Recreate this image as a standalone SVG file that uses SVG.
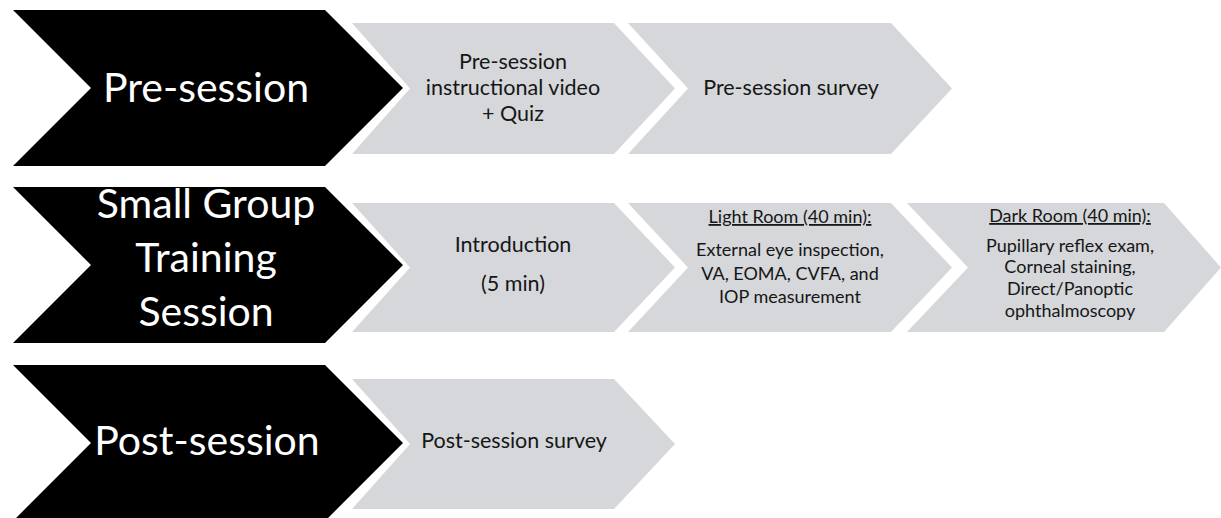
<svg xmlns="http://www.w3.org/2000/svg" width="1221" height="518" viewBox="0 0 1221 518">
<style>
.blk{fill:#000}
.gry{fill:#d5d7da}
.bt{font-family:Lato,"Liberation Sans",sans-serif;font-size:41px;fill:#fff;text-anchor:middle}
.gt{font-family:Lato,"Liberation Sans",sans-serif;font-size:21.5px;fill:#161616;text-anchor:middle}
.st{font-family:Lato,"Liberation Sans",sans-serif;font-size:18px;fill:#161616;text-anchor:middle}
.u{text-decoration:underline}
</style>
<rect width="1221" height="518" fill="#fff"/>
<g id="connectors"/>
<g id="pre-session">
<polygon class="blk" points="13,10 325,10 403,88 325,166 13,166 91,88"/>
<text class="bt" x="206" y="102">Pre-session</text>
</g>
<g id="pre-video">
<polygon class="gry" points="352,23 614,23 675,88.5 614,154 352,154 410,88.5"/>
<text class="gt" x="513" y="69">Pre-session</text>
<text class="gt" x="513" y="95">instructional video</text>
<text class="gt" x="513" y="121">+ Quiz</text>
</g>
<g id="pre-survey">
<polygon class="gry" points="628,23 891,23 952,88.5 891,154 628,154 688,88.5"/>
<text class="gt" x="791" y="95">Pre-session survey</text>
</g>
<g id="training">
<polygon class="blk" points="13,187 325,187 403,265 325,343 13,343 91,265"/>
<text class="bt" x="206" y="218">Small Group</text>
<text class="bt" x="206" y="272">Training</text>
<text class="bt" x="206" y="326">Session</text>
</g>
<g id="introduction">
<polygon class="gry" points="352,203 614,203 675,267.5 614,332 352,332 410,267.5"/>
<text class="gt" x="513" y="252">Introduction</text>
<text class="gt" x="513" y="291">(5 min)</text>
</g>
<g id="light-room">
<polygon class="gry" points="628,203 891,203 952,267.5 891,332 628,332 688,267.5"/>
<text class="st u" x="790" y="223">Light Room (40 min):</text>
<text class="st" x="790" y="256">External eye inspection,</text>
<text class="st" x="790" y="280">VA, EOMA, CVFA, and</text>
<text class="st" x="790" y="303">IOP measurement</text>
</g>
<g id="dark-room">
<polygon class="gry" points="907,203 1164,203 1221,267.5 1164,332 907,332 968,267.5"/>
<text class="st u" x="1070" y="222">Dark Room (40 min):</text>
<text class="st" x="1070" y="252">Pupillary reflex exam,</text>
<text class="st" x="1070" y="273">Corneal staining,</text>
<text class="st" x="1070" y="295">Direct/Panoptic</text>
<text class="st" x="1070" y="317">ophthalmoscopy</text>
</g>
<g id="post-session">
<polygon class="blk" points="13,365 325,365 403,443 325,521 13,521 91,443"/>
<text class="bt" x="207" y="455">Post-session</text>
</g>
<g id="post-survey">
<polygon class="gry" points="352,379 614,379 675,444 614,509 352,509 410,444"/>
<text class="gt" x="514" y="448">Post-session survey</text>
</g>
</svg>
